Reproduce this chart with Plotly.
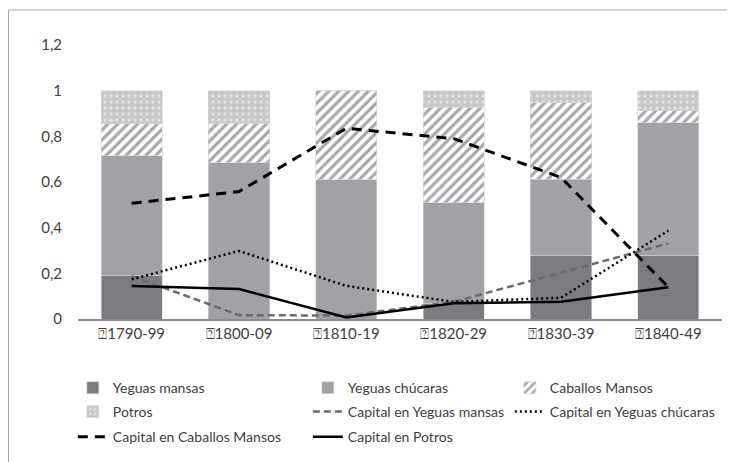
import plotly.graph_objects as go

categories = ["\u23701790-99", "\u23701800-09", "\u23701810-19", "\u23701820-29", "\u23701830-39", "\u23701840-49"]

yeguas_mansas = [0.19, 0.0, 0.0, 0.07, 0.28, 0.28]
yeguas_chucaras = [0.525, 0.685, 0.61, 0.44, 0.332, 0.58]
caballos_mansos = [0.14, 0.172, 0.39, 0.417, 0.335, 0.052]
potros = [0.145, 0.143, 0.0, 0.073, 0.053, 0.088]

cap_yeguas_mansas = [0.188, 0.017, 0.015, 0.075, 0.203, 0.331]
cap_yeguas_chucaras = [0.174, 0.298, 0.145, 0.075, 0.093, 0.387]
cap_caballos_mansos = [0.507, 0.558, 0.835, 0.79, 0.62, 0.139]
cap_potros = [0.145, 0.131, 0.007, 0.069, 0.076, 0.139]

FONT = "Lato"
TXT = "#404040"
COL1_W = 190
COL2_W = 157

fig = go.Figure()

bar_common = dict(x=categories, marker_line=dict(color="#d6d6d6", width=0.6))
fig.add_trace(go.Bar(name="Yeguas mansas", y=yeguas_mansas, marker_color="#7b7c80",
                     legend="legend", legendwidth=COL1_W, **bar_common))
fig.add_trace(go.Bar(name="Yeguas chúcaras", y=yeguas_chucaras, marker_color="#a0a2a6",
                     legend="legend", legendwidth=COL2_W, **bar_common))
fig.add_trace(go.Bar(name="Caballos Mansos", y=caballos_mansos,
                     marker=dict(color="white", pattern=dict(shape="/", fgcolor="#a6a7aa", bgcolor="white",
                                                              size=7, solidity=0.45, fillmode="replace")),
                     legend="legend", **bar_common))
fig.add_trace(go.Bar(name="Potros", y=potros,
                     marker=dict(color="#c8c9cb", pattern=dict(shape=".", fgcolor="#e2e2e3", bgcolor="#c6c7c9",
                                                                size=6, solidity=0.25, fillmode="replace")),
                     legend="legend2", legendwidth=COL1_W, **bar_common))

fig.add_trace(go.Scatter(name="Capital en Yeguas mansas", x=categories, y=cap_yeguas_mansas, mode="lines",
                         line=dict(color="#6b6b6b", width=2.5, dash="7px,4px"), legend="legend2",
                         legendwidth=COL2_W))
fig.add_trace(go.Scatter(name="Capital en Yeguas chúcaras", x=categories, y=cap_yeguas_chucaras, mode="lines",
                         line=dict(color="#000000", width=2.5, dash="2px,3px"), legend="legend2"))
fig.add_trace(go.Scatter(name="Capital en Caballos Mansos", x=categories, y=cap_caballos_mansos, mode="lines",
                         line=dict(color="#000000", width=3, dash="10px,7px"), legend="legend3",
                         legendwidth=COL1_W))
fig.add_trace(go.Scatter(name="Capital en Potros", x=categories, y=cap_potros, mode="lines",
                         line=dict(color="#000000", width=2.5), legend="legend3"))

leg_common = dict(orientation="h", xanchor="left", yanchor="middle", x=-0.008, traceorder="normal",
                  bgcolor="rgba(0,0,0,0)",
                  font=dict(family=FONT, size=14, color=TXT), itemclick=False, itemdoubleclick=False)

# page body adds an 8px offset; margins compensate so the plot lands where the reference has it
fig.update_layout(
    width=735, height=462,
    margin=dict(l=70, r=21, t=37, b=151, autoexpand=False),
    paper_bgcolor="white", plot_bgcolor="white",
    barmode="stack", bargap=0.43,
    separators=",.",
    font=dict(family=FONT, size=15, color=TXT),
    showlegend=True,
    legend=dict(y=-0.252, **leg_common),
    legend2=dict(y=-0.339, **leg_common),
    legend3=dict(y=-0.431, **leg_common),
    xaxis=dict(showline=True, linecolor="#8c8c8c", linewidth=1.5, ticks="", showgrid=False,
               tickfont=dict(family=FONT, size=15, color=TXT)),
    yaxis=dict(range=[0, 1.2], dtick=0.2, tick0=0, showgrid=False, zeroline=False, showline=False,
               ticks="", ticklabelstandoff=15, tickfont=dict(family=FONT, size=15, color=TXT)),
    shapes=[dict(type="rect", xref="paper", yref="paper", x0=(0.5 - 70) / 644, x1=(725 - 70) / 644,
                 y0=(311 - 480) / 274, y1=1 + (37 - 2) / 274, line=dict(color="#a6a6a6", width=1),
                 fillcolor="rgba(0,0,0,0)", layer="below")],
)

fig.write_html("out.html")
